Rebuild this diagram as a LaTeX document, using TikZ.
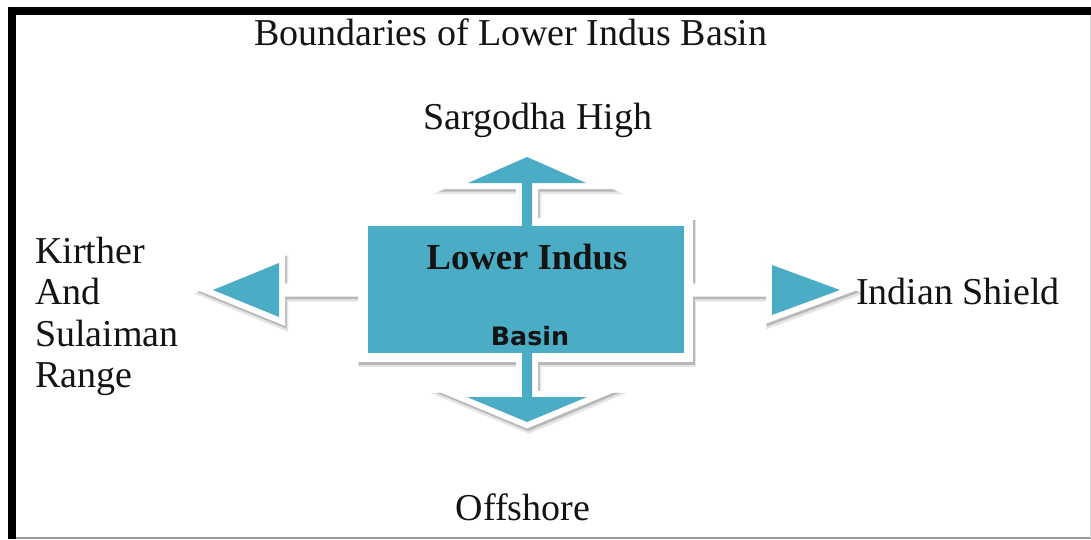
\documentclass[tikz,border=0pt]{standalone}
\usepackage{fontspec}
\setmainfont{Liberation Serif}
\newfontfamily\basinfont{DejaVu Sans}
\definecolor{basinblue}{HTML}{4BACC6}
\definecolor{inktext}{HTML}{141414}
\pgfdeclarelayer{paper}
\pgfdeclarelayer{shade}
\pgfdeclarelayer{rim}
\pgfsetlayers{paper,shade,rim,main}
\begin{document}
\begin{tikzpicture}[x=0.75pt,y=-0.75pt,
  label text/.style={inner sep=0pt, anchor=base, text=inktext,
    font=\fontsize{28.5}{34}\selectfont},
  % arrow outlines: stem running into the centre box, then the head
  toparrow/.style={insert path={(522,240) -- (522,183) -- (468,183) -- (527,157)
    -- (586,183) -- (532,183) -- (532,240) -- cycle}},
  botarrow/.style={insert path={(522,340) -- (522,397) -- (467,397) -- (527,422)
    -- (587,397) -- (532,397) -- (532,340) -- cycle}},
  leftarrow/.style={insert path={(380,289.5) -- (279,289.5) -- (279,263) -- (213,290)
    -- (279,317) -- (279,290.5) -- (380,290.5) -- cycle}},
  rightarrow/.style={insert path={(670,289.5) -- (772,289.5) -- (772,265) -- (840,290)
    -- (772,315) -- (772,290.5) -- (670,290.5) -- cycle}},
  % the side heads alone (their stems stay white)
  lefthead/.style={insert path={(279,263) -- (213,290) -- (279,317) -- cycle}},
  righthead/.style={insert path={(772,265) -- (840,290) -- (772,315) -- cycle}},
  boxrim/.style={insert path={(364,224) rectangle (687,356)}},
  haze/.style={draw=black!10, fill=black!10, line width=11.5pt, line join=miter,
    shift={(1.5,3.5)}},
  shadowpen/.style={draw=black!28, fill=black!28, line width=9.5pt, line join=miter,
    shift={(1.2,2.2)}},
  rimpen/.style={draw=white, fill=white, line width=9pt, line join=miter},
  bodypen/.style={fill=basinblue, draw=none},
  core/.style={fill=basinblue, draw=none, minimum width=237pt, minimum height=95.25pt,
    inner sep=0pt}
]
% page and frame
\begin{pgfonlayer}{paper}
  \fill[white] (0,0) rectangle (1091,539);
\end{pgfonlayer}
\useasboundingbox (0,0) rectangle (1091,539);
\fill[black] (8,7) rectangle (1091,15);
\fill[black] (8,7) rectangle (16,539);
\draw[black!40, line width=1.2pt] (16,538.2) -- (1091,538.2);
\draw[black!15, line width=0.8pt] (1090.5,15) -- (1090.5,538);

% soft shadows under the white outlines
\begin{pgfonlayer}{shade}
  \path[haze, toparrow]; \path[haze, botarrow];
  \path[haze, leftarrow]; \path[haze, rightarrow];
  \path[haze, boxrim];
  \path[shadowpen, toparrow]; \path[shadowpen, botarrow];
  \path[shadowpen, leftarrow]; \path[shadowpen, rightarrow];
  \path[shadowpen, boxrim];
\end{pgfonlayer}

% white outlines
\begin{pgfonlayer}{rim}
  \path[rimpen, toparrow]; \path[rimpen, botarrow];
  \path[rimpen, leftarrow]; \path[rimpen, rightarrow];
  \path[rimpen, boxrim];
\end{pgfonlayer}

% blue arrows
\path[bodypen, toparrow];
\path[bodypen, botarrow];
\path[bodypen, lefthead];
\path[bodypen, righthead];

% centre box
\node[core] (core) at (526,289.5) {};
\node[inner sep=0pt, anchor=base, text=inktext,
  font=\fontsize{27.5}{33}\bfseries] (lower) at (527,269) {Lower Indus};
\node[inner sep=0pt, anchor=base, text=inktext,
  font=\basinfont\fontsize{19}{23}\bfseries] (basin) at (530,345) {Basin};

% labels
\node[label text] (title) at (511,45) {Boundaries of Lower Indus Basin};
\node[label text] (north) at (538,129) {Sargodha High};
\node[label text] (south) at (523,520) {Offshore};
\node[label text, anchor=base west] (east) at (856,304) {Indian Shield};
\node[label text, anchor=base west] (west1) at (35,263) {Kirther};
\node[label text, anchor=base west] (west2) at (35,304.5) {And};
\node[label text, anchor=base west] (west3) at (35,346) {Sulaiman};
\node[label text, anchor=base west] (west4) at (35,387.5) {Range};
\end{tikzpicture}
\end{document}
